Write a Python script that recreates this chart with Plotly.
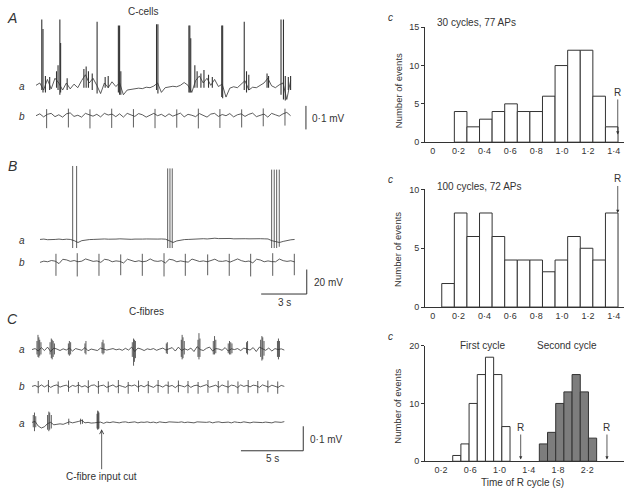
import numpy as np
import plotly.graph_objects as go

W, H = 624, 493
FONT = "Liberation Sans, Arial, Helvetica, sans-serif"
INK = "#333333"
DT = 0.25  # sampling interval of the hand-read baselines (s)

# ---------------- A : C-cells (mV) ----------------
A_a_base = [0.000, 0.010, -0.020, 0.025, -0.015, 0.030, 0.010, -0.020,
            0.010, -0.015, 0.005, -0.010, 0.020, 0.045, 0.010, 0.030,
            0.000, -0.035, 0.010, -0.010, 0.015, -0.005, 0.010, -0.040,
            -0.020, -0.018, -0.015, -0.012, -0.014, -0.008, -0.010, -0.003,
            0.010, -0.030, -0.010, -0.008, -0.004, -0.006, 0.000, 0.012,
            0.000, -0.030, 0.020, 0.040, 0.010, 0.030, 0.000, 0.025,
            -0.005, 0.005, -0.050, -0.012, -0.006, -0.010, 0.003, 0.020,
            -0.020, -0.008, -0.010, 0.000, 0.010, 0.030, -0.002, -0.010,
            0.002, 0.010, -0.060, 0.020]
A_a_spike_t = [0.38, 0.46, 0.62, 0.90, 1.35, 1.45, 1.57, 1.62, 2.05, 3.15,
               3.30, 3.45, 3.70, 4.02, 4.55, 4.75, 5.42, 5.50, 5.58, 7.93,
               8.02, 10.06, 10.12, 10.18, 10.45, 10.60, 10.85, 11.05, 11.35, 11.60,
               12.22, 12.28, 13.70, 13.85, 14.00, 15.20, 15.30, 16.12, 16.28, 16.40,
               16.60, 16.75]
A_a_spike_up = [0.280, 0.240, 0.040, 0.035, 0.060, 0.085, 0.280, 0.180, 0.030, 0.070,
                0.080, 0.060, 0.050, 0.270, 0.035, 0.040, 0.255, 0.255, 0.060, 0.260,
                0.260, 0.255, 0.255, 0.200, 0.085, 0.060, 0.050, 0.065, 0.045, 0.035,
                0.255, 0.255, 0.270, 0.060, 0.045, 0.050, 0.040, 0.280, 0.280, 0.040,
                0.035, 0.040]
A_a_spike_dn = [-0.020, -0.030, -0.030, -0.020, -0.010, -0.020, -0.040, -0.030, -0.020, -0.010,
                -0.010, -0.010, -0.020, -0.035, -0.010, -0.010, -0.030, -0.040, -0.040, -0.020,
                -0.035, -0.030, -0.030, -0.030, -0.010, -0.010, -0.010, -0.010, -0.010, -0.010,
                -0.050, -0.055, -0.020, -0.030, -0.020, -0.010, -0.010, -0.040, -0.060, -0.065,
                -0.020, -0.020]
A_b_base = [0.000, 0.008, -0.005, 0.006, 0.010, -0.004, 0.004, -0.006, 0.008, 0.012, -0.003, 0.002,
            -0.006, 0.010, 0.004, -0.002, 0.006, -0.005, 0.010, 0.003, 0.007, -0.004, 0.008, -0.006,
            0.010, 0.002, -0.003, 0.009, 0.004, -0.006, 0.003, 0.010, 0.000, 0.006, -0.004, 0.008,
            -0.002, 0.004, 0.011, -0.005, 0.006, 0.002, -0.004, 0.009, 0.003, -0.006, 0.007, 0.010,
            -0.003, 0.005, 0.000, 0.009, -0.005, 0.004, 0.008, -0.003, 0.006, 0.011, -0.004, 0.002,
            0.007, -0.006, 0.010, 0.004, -0.002, 0.008, 0.014, 0.000]
A_b_beat_t = [0.70, 2.13, 3.55, 4.98, 6.41, 7.83, 9.26, 10.68, 12.10, 13.53, 14.95, 16.38]
A_b_beat_up = [0.028, 0.030, 0.027, 0.030, 0.028, 0.029, 0.027, 0.030, 0.028, 0.027, 0.031, 0.030]
A_b_beat_dn = [-0.053, -0.050, -0.054, -0.052, -0.050, -0.053, -0.051, -0.054, -0.052, -0.050, -0.045, -0.042]

# ---------------- B : intracellular (mV) ----------------
B_a_base = [0.0, 0.3, -0.2, 0.2, 0.0, 0.3, -0.1, 0.2, 0.0,
            -1.0, -2.5, -1.0, -0.4, -0.1,
            0.0, 0.3, 0.1, 0.4, 0.2, 0.0, 0.3, 0.5, 0.2, 0.4,
            0.1, 0.3, 0.6, 0.3, 0.4, 0.2, 0.5, 0.3, 0.4, 0.2,
            -1.0, -2.5, -1.2, -0.5, -0.1,
            0.0, 0.2, 0.4, 0.3, 0.6, 0.4, 0.8, 1.0, 0.7, 0.9, 0.6,
            0.8, 0.5, 0.7, 0.4, 0.6, 0.5, 0.7, 0.4, 0.6, 0.5, 0.4,
            -1.0, -2.0, -2.5, -1.6, -0.8, -0.3, 0.0]
B_a_spike_t = [2.15, 2.41, 8.40, 8.55, 8.70, 15.24, 15.41, 15.57, 15.74]
B_a_spike_up = [60, 60, 58, 58, 58, 57, 57, 57, 57]
B_a_spike_dn = [-7, -7, -7, -7, -7, -7, -7, -7, -6]
B_b_base = [0.0, 1.0, 0.5, 1.5, 1.0, -1.0, 2.5, 2.0, 0.8, 1.5,
            0.5, 1.0, 2.8, 1.5, 0.8, 1.2, 0.0, 2.5, 2.0, 0.5,
            1.2, 0.8, -0.5, 2.6, 1.8, 0.6, 1.3, 0.5, 1.0, 2.8,
            1.2, 0.8, 1.4, -0.5, 2.5, 2.0, 0.5, 1.2, 0.6, 0.2,
            2.7, 1.6, 0.7, 1.2, 0.5, 1.5, 2.6, 1.0, 0.8, 1.4,
            0.2, 1.5, 2.8, 1.4, 0.6, 1.1, -0.4, 2.6, 1.9, 0.5,
            1.2, 0.6, 0.5, 2.7, 1.4, 0.8, 1.3, 0.4]
B_b_beat_t = [1.05, 2.45, 3.88, 5.31, 6.73, 8.16, 9.56, 11.03, 12.45, 13.86, 15.31, 16.73]
B_b_beat_up = [7.0, 7.5, 7.0, 6.5, 7.0, 7.5, 7.0, 6.5, 7.0, 7.0, 7.5, 7.0]
B_b_beat_dn = [-11.0, -11.5, -11.0, -10.5, -11.0, -11.5, -11.0, -10.5, -11.0, -11.5, -11.0, -10.5]

# ---------------- C : C-fibres (mV) ----------------
C_a_base = [0.000, 0.004, -0.006, 0.008, -0.004, 0.010, -0.008, 0.006, 0.002, -0.004,
            0.003, -0.002, 0.006, -0.006, 0.004, 0.000, -0.003, 0.008, -0.005, 0.002,
            0.000, -0.004, 0.006, 0.003, -0.002, 0.001, 0.004, -0.001, 0.002, -0.003,
            0.005, -0.002, 0.010, -0.008, 0.006, 0.002, -0.004, 0.003, 0.000, 0.004,
            -0.003, 0.002, 0.006, -0.002, 0.004, 0.008, -0.006, 0.010, -0.004, 0.003,
            -0.002, 0.006, -0.008, 0.012, 0.000, -0.004, 0.005, 0.010, -0.006, 0.004,
            0.002, -0.003, 0.008, -0.006, 0.003, 0.000, 0.004, -0.004, 0.006, 0.001,
            -0.002, 0.008, -0.008, 0.010, 0.002, -0.003, 0.006, -0.006, 0.004, 0.000,
            0.003, -0.002]
C_a_spike_t = [0.40, 0.48, 0.55, 0.62, 0.72, 1.45, 1.55, 1.62, 1.70, 1.80,
               2.92, 3.00, 3.10, 4.25, 4.33, 5.62, 5.70, 5.78, 8.05, 8.15,
               8.22, 8.30, 10.78, 10.86, 11.98, 12.05, 12.12, 12.22, 13.32, 13.40,
               13.48, 14.55, 14.65, 14.75, 15.75, 15.85, 15.95, 16.05, 17.22, 17.30,
               18.35, 18.45, 18.52, 18.62, 19.70, 19.78, 19.86]
C_a_spike_up = [0.035, 0.060, 0.050, 0.040, 0.030, 0.030, 0.045, 0.040, 0.035, 0.025,
                0.025, 0.035, 0.030, 0.025, 0.035, 0.030, 0.040, 0.025, 0.030, 0.045,
                0.040, 0.035, 0.025, 0.030, 0.040, 0.060, 0.050, 0.035, 0.040, 0.067,
                0.045, 0.035, 0.055, 0.040, 0.025, 0.035, 0.030, 0.025, 0.030, 0.035,
                0.040, 0.055, 0.050, 0.035, 0.035, 0.045, 0.035]
C_a_spike_dn = [-0.020, -0.030, -0.033, -0.025, -0.020, -0.020, -0.035, -0.040, -0.030, -0.020,
                -0.020, -0.025, -0.020, -0.015, -0.020, -0.015, -0.020, -0.015, -0.030, -0.066,
                -0.050, -0.035, -0.015, -0.018, -0.030, -0.040, -0.035, -0.020, -0.030, -0.040,
                -0.030, -0.020, -0.020, -0.015, -0.015, -0.020, -0.020, -0.015, -0.015, -0.020,
                -0.030, -0.045, -0.040, -0.025, -0.030, -0.040, -0.030]
C_b_base = [0.000, 0.004, -0.003, 0.006, -0.002, 0.005, -0.004, 0.003, 0.006, -0.003,
            0.002, 0.005, -0.004, 0.004, 0.000, 0.006, -0.002, 0.003, -0.005, 0.004,
            0.006, -0.002, 0.003, 0.005, -0.004, 0.002, 0.006, -0.003, 0.004, 0.000,
            -0.004, 0.005, 0.002, 0.006, -0.003, 0.004, -0.002, 0.006, 0.001, -0.004,
            0.005, 0.003, -0.003, 0.006, 0.000, 0.004, -0.005, 0.005, 0.002, -0.002,
            0.006, -0.004, 0.003, 0.005, -0.002, 0.004, 0.007, -0.003, 0.002, 0.005,
            -0.004, 0.006, 0.001, -0.003, 0.005, 0.003, -0.005, 0.006, 0.000, 0.004,
            -0.002, 0.005, 0.003, -0.004, 0.006, 0.001, -0.003, 0.005, 0.002, -0.004,
            0.004, 0.000]
C_b_beat_t = [0.50, 1.32, 2.10, 2.93, 3.72, 4.52, 5.33, 6.12, 6.93, 7.72, 8.55, 9.33, 10.12,
              10.93, 11.75, 12.52, 13.33, 14.12, 14.95, 15.73, 16.53, 17.35, 18.12, 18.93, 19.72]
C_b_beat_up = [0.022, 0.026, 0.020, 0.024, 0.018, 0.025, 0.022, 0.020, 0.026, 0.018, 0.024, 0.022, 0.026,
               0.020, 0.024, 0.022, 0.018, 0.026, 0.022, 0.024, 0.020, 0.026, 0.022, 0.024, 0.020]
C_b_beat_dn = [-0.028, -0.024, -0.030, -0.022, -0.028, -0.026, -0.030, -0.024, -0.028, -0.030, -0.022, -0.028, -0.026,
               -0.030, -0.024, -0.028, -0.030, -0.026, -0.024, -0.028, -0.030, -0.026, -0.028, -0.024, -0.030]
C_a2_base = [0.000, 0.004, -0.015, -0.023, -0.018, -0.005, 0.000, -0.010, -0.008, -0.006,
             -0.008, -0.004, 0.002, -0.002, 0.000, 0.004, 0.008, -0.002, 0.000, -0.003,
             -0.002, 0.000, 0.001, -0.004, 0.001, -0.001, 0.002, 0.000, -0.002, 0.001,
             0.002, -0.001, 0.000, 0.002, -0.002, 0.001, 0.000, 0.002, -0.001, 0.001,
             -0.002, 0.002, 0.000, -0.001, 0.002, 0.001, -0.002, 0.000, 0.002, -0.001,
             0.001, 0.000, -0.002, 0.002, 0.001, -0.001, 0.000, 0.002, -0.002, 0.001,
             0.002, -0.001, 0.000, 0.001, -0.002, 0.002, 0.000, -0.001, 0.002, 0.001,
             -0.002, 0.001, 0.000, 0.002, -0.001, 0.001, 0.000, -0.002, 0.002, 0.001,
             0.000, 0.003]
C_a2_spike_t = [0.10, 0.20, 0.30, 1.25, 1.35, 1.42, 1.55, 2.95, 3.90, 4.05, 5.22, 5.27, 5.32, 5.37]
C_a2_spike_up = [0.030, 0.040, 0.025, 0.030, 0.044, 0.040, 0.030, 0.015, 0.015, 0.012, 0.035, 0.048, 0.045, 0.040]
C_a2_spike_dn = [-0.020, -0.036, -0.020, -0.030, -0.036, -0.030, -0.025, -0.010, -0.008, -0.006, -0.025, -0.030, -0.028, -0.025]
C_cut_t = 5.59  # time at which the C-fibre input was cut (s)

# scale bars
A_bar_mV = 0.1
B_bar_mV, B_bar_s = 20, 3
C_bar_mV, C_bar_s = 0.1, 5

# ---------------- histograms ----------------
top_bin_left, top_bin_w = 0.07, 0.0973
hist1_counts = [0, 4, 2, 3, 4, 5, 4, 4, 6, 10, 12, 12, 6, 2]
hist2_counts = [2, 8, 6, 8, 6, 4, 4, 4, 3, 4, 6, 5, 4, 8]
hist1_R, hist2_R = 1.43, 1.43
top_ticks = [0, 0.2, 0.4, 0.6, 0.8, 1.0, 1.2, 1.4]
top_ticktext = ["0", "0·2", "0·4", "0·6", "0·8", "1·0", "1·2", "1·4"]

first_bin_left, second_bin_left, cyc_bin_w = 0.36, 1.545, 0.112
first_cycle_counts = [1, 3, 10, 15, 18, 15, 6]
second_cycle_counts = [3, 5, 10, 12, 15, 12, 4]
hist3_R = [1.29, 2.47]
bot_ticks = [0.2, 0.6, 1.0, 1.4, 1.8, 2.2]
bot_ticktext = ["0·2", "0·6", "1·0", "1·4", "1·8", "2·2"]

# ---------------- helpers ----------------
def PX(x): return x / W
def PY(y): return 1 - y / H
def xr(l, r, p0, pps): return [(l - p0) / pps, (r - p0) / pps]
def yr(top, bot, p0, ppu): return [(p0 - bot) / ppu, (p0 - top) / ppu]

fig = go.Figure()
LW = 0.8

def add_base(vals, off, ax):
    t = np.arange(len(vals)) * DT
    fig.add_trace(go.Scatter(x=t, y=np.array(vals) + off, mode="lines",
                             line=dict(color=INK, width=LW), xaxis=ax[0], yaxis=ax[1],
                             hoverinfo="skip"))

def add_spikes(ts, ups, dns, off, ax, w=LW):
    xs, ys = [], []
    for t, u, d in zip(ts, ups, dns):
        xs += [t, t, None]
        ys += [off + d, off + u, None]
    fig.add_trace(go.Scatter(x=xs, y=ys, mode="lines", line=dict(color=INK, width=w),
                             xaxis=ax[0], yaxis=ax[1], hoverinfo="skip"))

def add_line(xs, ys, ax, w=1):
    fig.add_trace(go.Scatter(x=xs, y=ys, mode="lines", line=dict(color=INK, width=w),
                             xaxis=ax[0], yaxis=ax[1], hoverinfo="skip"))

AX_A, AX_B, AX_C = ("x", "y"), ("x2", "y2"), ("x3", "y3")
# offsets of traces inside each panel (layout)
A_a_off = (113 - 82) / 240
B_a_off = (262.7 - 239.3) / 1.25
C_a_off = (426 - 351.7) / 250
C_b_off = (426 - 389.3) / 250

add_base(A_a_base, A_a_off, AX_A)
add_spikes(A_a_spike_t, A_a_spike_up, A_a_spike_dn, A_a_off, AX_A, 1.1)
add_base(A_b_base, 0, AX_A)
add_spikes(A_b_beat_t, A_b_beat_up, A_b_beat_dn, 0, AX_A)
add_line([17.76, 17.76], [-0.0583, -0.0583 + A_bar_mV], AX_A)

add_base(B_a_base, B_a_off, AX_B)
add_spikes(B_a_spike_t, B_a_spike_up, B_a_spike_dn, B_a_off, AX_B)
add_base(B_b_base, 0, AX_B)
add_spikes(B_b_beat_t, B_b_beat_up, B_b_beat_dn, 0, AX_B)
add_line([17.55 - B_bar_s, 17.55, 17.55], [-25.84, -25.84, -25.84 + B_bar_mV], AX_B)

add_base(C_a_base, C_a_off, AX_C)
add_spikes(C_a_spike_t, C_a_spike_up, C_a_spike_dn, C_a_off, AX_C)
add_base(C_b_base, C_b_off, AX_C)
add_spikes(C_b_beat_t, C_b_beat_up, C_b_beat_dn, C_b_off, AX_C)
add_base(C_a2_base, 0, AX_C)
add_spikes(C_a2_spike_t, C_a2_spike_up, C_a2_spike_dn, 0, AX_C)
add_line([21.77 - C_bar_s, 21.77, 21.77], [-0.116, -0.116, -0.116 + C_bar_mV], AX_C)

# histogram bars (empty bins get no outline)
def add_bars(left, w, counts, ax, fill):
    c = left + w * (np.arange(len(counts)) + 0.5)
    lw = [1 if n > 0 else 0 for n in counts]
    fig.add_trace(go.Bar(x=c, y=counts, width=w, marker=dict(color=fill, line=dict(color=INK, width=lw)),
                         xaxis=ax[0], yaxis=ax[1], hoverinfo="skip"))

add_bars(top_bin_left, top_bin_w, hist1_counts, ("x4", "y4"), "white")
add_bars(top_bin_left, top_bin_w, hist2_counts, ("x5", "y5"), "white")
add_bars(first_bin_left, cyc_bin_w, first_cycle_counts, ("x6", "y6"), "white")
add_bars(second_bin_left, cyc_bin_w, second_cycle_counts, ("x6", "y6"), "#7d7d7d")

hidden = dict(visible=False, fixedrange=True)
lay = dict(
    width=W, height=H, margin=dict(l=0, r=0, t=0, b=0),
    paper_bgcolor="white", plot_bgcolor="white", showlegend=False,
    barmode="overlay", font=dict(family=FONT, color=INK, size=10),
    xaxis=dict(domain=[PX(20), PX(380)], range=xr(20, 380, 36, 15.2), anchor="y", **hidden),
    yaxis=dict(domain=[PY(135), PY(0)], range=yr(0, 135, 113, 240), anchor="x", **hidden),
    xaxis2=dict(domain=[PX(20), PX(380)], range=xr(20, 380, 40, 15.2), anchor="y2", **hidden),
    yaxis2=dict(domain=[PY(310), PY(140)], range=yr(140, 310, 262.7, 1.25), anchor="x2", **hidden),
    xaxis3=dict(domain=[PX(20), PX(380)], range=xr(20, 380, 32, 12.46), anchor="y3", **hidden),
    yaxis3=dict(domain=[PY(493), PY(305)], range=yr(305, 493, 426, 250), anchor="x3", **hidden),
)

def hx(rng, tv, tt, anchor):
    return dict(domain=[PX(425), 1.0], range=rng, anchor=anchor, showline=True, linecolor=INK,
                linewidth=1, showgrid=False, zeroline=False, ticks="", tickvals=tv, ticktext=tt,
                ticklabeloverflow="allow",
                tickfont=dict(size=9, color=INK, family=FONT), fixedrange=True)

def hy(dom, rng, tv, anchor):
    return dict(domain=dom, range=rng, anchor=anchor, showline=True, linecolor=INK, linewidth=1,
                showgrid=False, zeroline=False, ticks="outside", ticklen=3, tickcolor=INK,
                tickwidth=1, tickvals=tv, tickfont=dict(size=9, color=INK, family=FONT),
                fixedrange=True)

lay["xaxis4"] = hx(xr(425, 624, 432.7, 129.4), top_ticks, top_ticktext, "y4")
lay["yaxis4"] = hy([PY(140), PY(22.7)], [0, 15], [0, 5, 10, 15], "x4")
lay["xaxis5"] = hx(xr(425, 624, 432.7, 129.4), top_ticks, top_ticktext, "y5")
lay["yaxis5"] = hy([PY(308.3), PY(188.3)], [0, 10], [0, 5, 10], "x5")
lay["xaxis6"] = hx(xr(425, 624, 426.4, 73.1), bot_ticks, bot_ticktext, "y6")
lay["yaxis6"] = hy([PY(465.7), PY(347.7)], [0, 20], [0, 10, 20], "x6")
fig.update_layout(**lay)

ann = []
def T(x, y, s, size=10, xanchor="center", angle=0):
    ann.append(dict(x=PX(x), y=PY(y), xref="paper", yref="paper", text=s, showarrow=False,
                    xanchor=xanchor, yanchor="middle", textangle=angle,
                    font=dict(size=size, color=INK, family=FONT)))

T(12, 13, "<i>A</i>", 14); T(12, 164, "<i>B</i>", 14); T(12, 321, "<i>C</i>", 14)
T(143, 7, "C-cells"); T(146, 313, "C-fibres")
T(22, 83, "<i>a</i>"); T(22, 114, "<i>b</i>")
T(22, 240, "<i>a</i>"); T(22, 263, "<i>b</i>")
T(22, 352, "<i>a</i>"); T(22, 389, "<i>b</i>"); T(22, 427, "<i>a</i>")
T(310, 116, "0·1 mV", xanchor="left")
T(312, 283, "20 mV", xanchor="left")
T(284, 304, "3 s")
T(308, 443, "0·1 mV", xanchor="left")
T(272, 463, "5 s")
T(390, 13, "<i>c</i>"); T(390, 178, "<i>c</i>"); T(390, 338, "<i>c</i>")
T(435, 18, "30 cycles, 77 APs", xanchor="left")
T(435, 185, "100 cycles, 72 APs", xanchor="left")
T(482, 348, "First cycle"); T(567, 348, "Second cycle")
T(522, 487, "Time of R cycle (s)")
T(398, 88, "Number of events", 9.5, angle=-90)
T(398, 250, "Number of events", 9.5, angle=-90)
T(398, 410, "Number of events", 9.5, angle=-90)

def R(x, y, xa, ya, ay):
    ann.append(dict(x=x, y=y, xref=xa, yref=ya, text="R", showarrow=True, ax=0, ay=ay,
                    arrowhead=2, arrowsize=0.8, arrowwidth=0.8, arrowcolor=INK,
                    font=dict(size=10, color=INK, family=FONT)))

R(hist1_R, 1.0, "x4", "y4", -42)
R(hist2_R, 8.0, "x5", "y5", -34)
R(hist3_R[0], 0.3, "x6", "y6", -32)
R(hist3_R[1], 0.3, "x6", "y6", -32)

ann.append(dict(x=C_cut_t, y=-0.028, xref="x3", yref="y3", text="C-fibre input cut",
                showarrow=True, ax=0, ay=47, arrowhead=5, arrowsize=1, arrowwidth=0.8,
                arrowcolor=INK, font=dict(size=10, color=INK, family=FONT)))

fig.update_layout(annotations=ann)
fig.write_html("out.html", config={"displayModeBar": False, "staticPlot": True},
               post_script="document.body.style.margin='0';document.body.style.overflow='hidden';")
